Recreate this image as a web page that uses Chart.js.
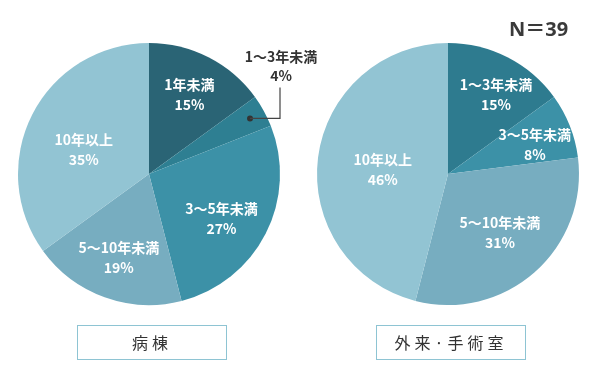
<!DOCTYPE html>
<html>
<head>
<meta charset="utf-8">
<script src="https://cdn.jsdelivr.net/npm/chart.js@4"></script>
<style>
  body { margin: 0; background: #fff; font-family: "Noto Sans CJK JP", sans-serif; }
  #wrap { position: relative; width: 598px; height: 379px; overflow: hidden; }
  canvas { position: absolute; top: 0; }
  #leftChart { left: 0; }
  #rightChart { left: 299px; }
  .nlabel { position: absolute; left: 509px; top: 13px; font-size: 20px; font-weight: bold; color: #3a3a3a; font-family: "Open Sans", "Noto Sans CJK JP"; }
  .box { position: absolute; top: 325px; width: 148px; height: 33px; border: 1px solid #8ec4d3;
         text-align: center; line-height: 33px; font-size: 16px; color: #333; letter-spacing: 4px; }
</style>
</head>
<body>
<div id="wrap">
  <canvas id="leftChart"></canvas>
  <canvas id="rightChart"></canvas>
  <div class="nlabel">N＝39</div>
  <div class="box" style="left:77px">病棟</div>
  <div class="box" style="left:376px">外来·手術室</div>
</div>
<script>
const wardLabels = ["1年未満", "1〜3年未満", "3〜5年未満", "5〜10年未満", "10年以上"];
const wardValues = [15, 4, 27, 19, 35];
const outpatientLabels = ["1〜3年未満", "3〜5年未満", "5〜10年未満", "10年以上"];
const outpatientValues = [15, 8, 31, 46];

const wardColors = ["#2a6475", "#2e7f92", "#3c91a7", "#77adc0", "#92c4d3"];
const outpatientColors = ["#2e7b8f", "#3c91a7", "#77adc0", "#92c4d3"];

// draws the white labels inside slices, and the leader-lined label for small slices
const sliceLabels = {
    id: 'sliceLabels',
    afterDatasetsDraw(chart, args, opts) {
        const ctx = chart.ctx;
        const meta = chart.getDatasetMeta(0);
        const data = chart.data.datasets[0].data;
        ctx.save();
        ctx.font = 'bold 14px "Noto Sans CJK JP"';
        ctx.textAlign = 'center';
        ctx.textBaseline = 'middle';
        meta.data.forEach(function(arc, i) {
            const mid = (arc.startAngle + arc.endAngle) / 2 + (opts.shift[i] || 0);
            const text = chart.data.labels[i];
            const pct = data[i] + "%";
            if (opts.outside.includes(i)) {
                const dx = arc.x + Math.cos(mid) * arc.outerRadius * 0.88;
                const dy = arc.y + Math.sin(mid) * arc.outerRadius * 0.88;
                const lx = arc.x + arc.outerRadius;
                ctx.fillStyle = '#333';
                ctx.strokeStyle = '#444';
                ctx.lineWidth = 1.2;
                ctx.beginPath();
                ctx.arc(dx, dy, 3, 0, Math.PI * 2);
                ctx.fill();
                ctx.beginPath();
                ctx.moveTo(dx, dy);
                ctx.lineTo(lx, dy);
                ctx.lineTo(lx, dy - 31);
                ctx.stroke();
                ctx.fillText(text, lx + 1, dy - 62);
                ctx.fillText(pct, lx + 1, dy - 43);
                return;
            }
            const r = arc.outerRadius * opts.radius[i];
            const x = arc.x + Math.cos(mid) * r;
            const y = arc.y + Math.sin(mid) * r;
            ctx.fillStyle = '#fff';
            ctx.fillText(text, x, y - 10);
            ctx.fillText(pct, x, y + 10);
        });
        ctx.restore();
    }
};

function makePie(id, width, labels, values, colors, labelOpts) {
    const canvas = document.getElementById(id);
    canvas.width = width;
    canvas.height = 379;
    new Chart(canvas, {
        type: 'pie',
        data: {
            labels: labels,
            datasets: [{
                data: values,
                backgroundColor: colors,
                borderWidth: 0
            }]
        },
        options: {
            responsive: false,
            animation: false,
            layout: { padding: { left: 18, right: width - 280, top: 43, bottom: 74 } },
            plugins: {
                legend: { display: false },
                tooltip: { enabled: false },
                sliceLabels: labelOpts
            }
        },
        plugins: [sliceLabels]
    });
}

makePie('leftChart', 340, wardLabels, wardValues, wardColors,
    { radius: [0.68, 0, 0.65, 0.68, 0.53], shift: [0, 0, 0.08, 0, -0.12], outside: [1] });
makePie('rightChart', 299, outpatientLabels, outpatientValues, outpatientColors,
    { radius: [0.71, 0.7, 0.6, 0.5], shift: [0.07, 0.05, 0, -0.06], outside: [] });
</script>
</body>
</html>
